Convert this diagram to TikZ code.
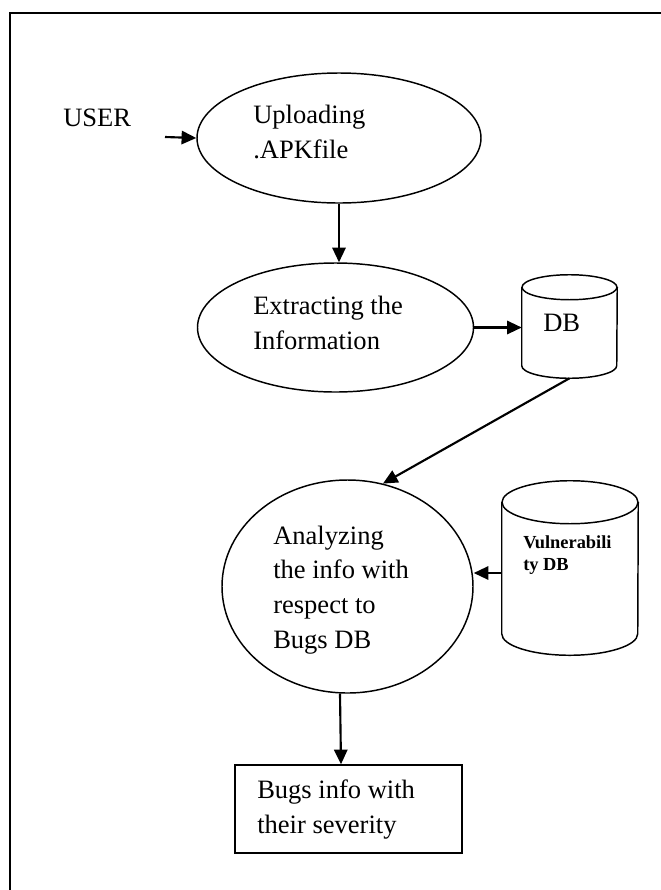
\documentclass[tikz,border=0pt]{standalone}
\usepackage{fontspec}
\setmainfont{Liberation Serif}
\usetikzlibrary{shapes.geometric,arrows.meta}
\def\pxu{0.75pt}
\tikzset{
  shp/.style={draw=black, line width=1.1pt},
  arr/.style={draw=black, line width=1.6pt, -{Triangle[length=11pt,width=10pt]}},
  txt/.style={anchor=base west, inner sep=0pt, align=left, font=\fontsize{19.9}{26}\selectfont},
  btxt/.style={anchor=base west, inner sep=0pt, align=left, font=\fontsize{13.8}{16.5}\selectfont\bfseries},
  ell/.style={shp, ellipse, inner sep=0pt},
  area/.style={inner sep=0pt, rectangle}
}
\begin{document}
\begin{tikzpicture}[x=0.75pt,y=0.75pt]
\useasboundingbox (0,0) rectangle (661,-890);
\fill[white] (0,0) rectangle (661,-890);
% frame
\draw[line width=1.5pt] (661,-13) -- (9.5,-13) -- (9.5,-890);

% USER
\node[txt] (user) at (63,-126) {USER};
\coordinate (uin) at (165,-137);

% Uploading
\node[ell, minimum width=284*\pxu, minimum height=130*\pxu] (upl) at (339,-138) {};
\node[txt] (uplt) at (253,-158) {Uploading\\.APKfile};

% Extracting
\node[ell, minimum width=276*\pxu, minimum height=129*\pxu] (ext) at (335.5,-327.5) {};
\node[txt] (extt) at (253,-349) {Extracting the\\Information};

% DB cylinder
\node[area, minimum width=95*\pxu, minimum height=103*\pxu] (db) at (569.5,-326.5) {};
\draw[shp] ([yshift=-12.5*\pxu]db.north west) -- ([yshift=12.5*\pxu]db.south west)
  arc[start angle=180, end angle=360, x radius=47.5*\pxu, y radius=12.5*\pxu]
  -- ([yshift=-12.5*\pxu]db.north east);
\draw[shp] ([yshift=-12.5*\pxu]db.north) ellipse[x radius=47.5*\pxu, y radius=12.5*\pxu];
\node[txt] (dbt) at (543,-331) {DB};

% Analyzing
\node[ell, minimum width=251*\pxu, minimum height=213*\pxu] (ana) at (347.5,-586.5) {};
\node[txt] (anat) at (273,-648) {Analyzing\\the info with\\respect to\\Bugs DB};

% Vulnerability DB cylinder
\node[area, minimum width=136*\pxu, minimum height=174*\pxu] (vul) at (570,-568) {};
\draw[shp] ([yshift=-21.5*\pxu]vul.north west) -- ([yshift=21.5*\pxu]vul.south west)
  arc[start angle=180, end angle=360, x radius=68*\pxu, y radius=21.5*\pxu]
  -- ([yshift=-21.5*\pxu]vul.north east);
\draw[shp] ([yshift=-21.5*\pxu]vul.north) ellipse[x radius=68*\pxu, y radius=21.5*\pxu];
\node[btxt] (vult) at (523,-570) {Vulnerabili\\ty DB};

% Result box
\node[shp, rectangle, inner sep=0pt, minimum width=227*\pxu, minimum height=88*\pxu] (res) at (348.5,-809) {};
\node[txt] (rest) at (257,-833) {Bugs info with\\their severity};

% connectors
\draw[arr] (uin) -- (upl.west);
\draw[arr] (upl.south) -- (upl.south |- ext.north);
\draw[arr] (ext.east) -- (ext.east -| db.west);
\draw[arr] (db.south) -- (ana.71);
\coordinate (vin) at ([yshift=-5*\pxu]vul.west);
\draw[arr] (vin) -- (vin -| ana.east);
\draw[arr] ([xshift=-7.5*\pxu]ana.south) -- ([xshift=-7.5*\pxu]res.north);
\end{tikzpicture}
\end{document}
